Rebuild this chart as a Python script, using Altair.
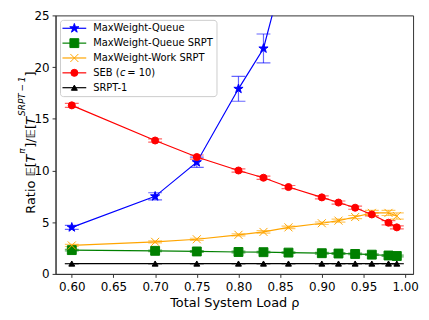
import altair as alt
import pandas as pd

# ---------------- data ----------------
series_names = ["MaxWeight-Queue", "MaxWeight-Queue SRPT", "MaxWeight-Work SRPT",
                "SEB (c = 10)", "SRPT-1"]
series_colors = ["#0000ff", "#008000", "#ffa500", "#ff0000", "#000000"]

load_full = [0.60, 0.70, 0.75, 0.80, 0.83, 0.86, 0.90, 0.92, 0.94, 0.96, 0.98, 0.99]
load_mwq = [0.60, 0.70, 0.75, 0.80, 0.83, 0.86]

mwq_y = [4.5, 7.5, 10.8, 17.9, 21.8, 31.0]
mwq_err = [0.2, 0.35, 0.5, 1.2, 1.4, 2.0]

mwq_srpt_y = [2.30, 2.23, 2.17, 2.12, 2.10, 2.06, 2.00, 1.97, 1.93, 1.86, 1.78, 1.73]
mwq_srpt_err = [0.08] * 12

mww_srpt_y = [2.75, 3.10, 3.35, 3.78, 4.06, 4.50, 4.90, 5.15, 5.50, 5.90, 5.90, 5.60]
mww_srpt_err = [0.10, 0.10, 0.10, 0.10, 0.12, 0.12, 0.12, 0.15, 0.15, 0.25, 0.25, 0.30]

seb_y = [16.3, 12.9, 11.3, 10.0, 9.3, 8.4, 7.4, 6.9, 6.4, 5.75, 4.95, 4.5]
seb_err = [0.2, 0.15, 0.2, 0.15, 0.15, 0.15, 0.15, 0.15, 0.15, 0.15, 0.2, 0.15]

srpt1_y = [1.0] * 12
srpt1_err = [0.0] * 12

x_ticks = [0.60, 0.65, 0.70, 0.75, 0.80, 0.85, 0.90, 0.95, 1.00]
y_ticks = [0, 5, 10, 15, 20, 25]

# ---------------- table ----------------
rows = []
for name, xs, ys, es in [
    (series_names[0], load_mwq, mwq_y, mwq_err),
    (series_names[1], load_full, mwq_srpt_y, mwq_srpt_err),
    (series_names[2], load_full, mww_srpt_y, mww_srpt_err),
    (series_names[3], load_full, seb_y, seb_err),
    (series_names[4], load_full, srpt1_y, srpt1_err),
]:
    for xv, yv, ev in zip(xs, ys, es):
        rows.append({"series": name, "load": xv, "ratio": yv, "err": ev})
df = pd.DataFrame(rows)

STAR = ("M0,-1L0.2245,-0.309L0.951,-0.309L0.363,0.118L0.588,0.809L0,0.382"
        "L-0.588,0.809L-0.363,0.118L-0.951,-0.309L-0.2245,-0.309Z")
XMARK = "M-1,-1L1,1M-1,1L1,-1"
shapes = [STAR, "square", XMARK, "circle", "triangle-up"]
sizes = [95, 36, 40, 55, 42]

FONT = "DejaVu Sans"

color_enc = alt.Color("series:N", scale=alt.Scale(domain=series_names, range=series_colors), legend=None)
stroke_enc = alt.Stroke("series:N", scale=alt.Scale(domain=series_names, range=series_colors), legend=None)
fill_enc = alt.Fill("series:N", scale=alt.Scale(domain=series_names, range=series_colors), legend=None)
shape_enc = alt.Shape("series:N", scale=alt.Scale(domain=series_names, range=shapes), legend=None)
size_enc = alt.Size("series:N", scale=alt.Scale(domain=series_names, range=sizes), legend=None)

x_enc = alt.X("load:Q",
              scale=alt.Scale(domain=[0.5805, 1.0095], nice=False, zero=False),
              axis=alt.Axis(values=x_ticks, format=".2f", title="Total System Load ρ",
                            titlePadding=4, labelPadding=4))
y_scale = alt.Scale(domain=[0, 25], nice=False)
y_enc = alt.Y("ratio:Q", scale=y_scale, axis=alt.Axis(values=y_ticks, title=None))

base = alt.Chart(df)
errbase = base.transform_calculate(lo="datum.ratio - datum.err", hi="datum.ratio + datum.err")

err_rule = errbase.mark_rule(clip=True, opacity=0.6, strokeWidth=1.2).encode(
    x=x_enc, y=alt.Y("lo:Q", scale=y_scale, title=None), y2="hi:Q", color=color_enc)
cap_lo = errbase.mark_tick(orient="horizontal", size=14, thickness=1.2, clip=True, opacity=0.6).encode(
    x=x_enc, y=alt.Y("lo:Q", scale=y_scale, title=None), color=color_enc)
cap_hi = errbase.mark_tick(orient="horizontal", size=14, thickness=1.2, clip=True, opacity=0.6).encode(
    x=x_enc, y=alt.Y("hi:Q", scale=y_scale, title=None), color=color_enc)
lines = base.mark_line(clip=True, strokeWidth=1.2).encode(x=x_enc, y=y_enc, color=color_enc)
points = base.mark_point(filled=True, opacity=1, clip=True, strokeWidth=1).encode(
    x=x_enc, y=y_enc, fill=fill_enc, stroke=stroke_enc, shape=shape_enc, size=size_enc)

main = alt.layer(err_rule, cap_lo, cap_hi, lines, points)

# ---------------- legend (manual, matplotlib-like) ----------------
leg_labels = ["MaxWeight-Queue", "MaxWeight-Queue SRPT", "MaxWeight-Work SRPT", "SEB (", "SRPT-1"]
leg_df = pd.DataFrame({"series": series_names, "label": leg_labels})
one = pd.DataFrame({"k": [0]})
ly = alt.Y("series:N", scale=alt.Scale(type="point", domain=series_names, range=[13, 73], padding=0),
           axis=None)

leg_box = alt.Chart(one).mark_rect(fill="white", stroke="#cccccc", strokeWidth=1, cornerRadius=3).encode(
    x=alt.value(5), x2=alt.value(163), y=alt.value(5), y2=alt.value(82))
leg_line = alt.Chart(leg_df).mark_rule(strokeWidth=1.2).encode(
    x=alt.value(7), x2=alt.value(31), y=ly, color=color_enc)
leg_pts = alt.Chart(leg_df).mark_point(filled=True, opacity=1, strokeWidth=1).encode(
    x=alt.value(19), y=ly, fill=fill_enc, stroke=stroke_enc, shape=shape_enc, size=size_enc)
leg_text = alt.Chart(leg_df).mark_text(align="left", baseline="middle", fontSize=10, font=FONT,
                                        color="black").encode(
    x=alt.value(38), y=ly, text="label:N")
seb_only = alt.Chart(leg_df).transform_filter(alt.datum.series == series_names[3])
leg_c = seb_only.mark_text(align="left", baseline="middle", fontSize=10, font=FONT,
                           fontStyle="italic", color="black").encode(
    x=alt.value(65), y=ly, text=alt.value("c"))
leg_eq = seb_only.mark_text(align="left", baseline="middle", fontSize=10, font=FONT,
                            color="black").encode(
    x=alt.value(72.5), y=ly, text=alt.value("= 10)"))

legend = alt.layer(leg_box, leg_line, leg_pts, leg_text, leg_c, leg_eq)

# ---------------- y axis title (composed mathtext-like) ----------------
def ytxt(text, ypos, xpos, size=13, italic=False):
    kw = dict(angle=270, align="left", baseline="alphabetic", fontSize=size, font=FONT, color="black")
    if italic:
        kw["fontStyle"] = "italic"
    return alt.Chart(one).mark_text(**kw).encode(
        x=alt.value(xpos), y=alt.value(ypos), text=alt.value(text))

ytitle = alt.layer(
    ytxt("Ratio 𝔼[", 200.2, -21),
    ytxt("T", 148.5, -21, italic=True),
    ytxt("π", 139.6, -31, size=9, italic=True),
    ytxt("]/𝔼[", 133.7, -21),
    ytxt("T", 110.4, -21, italic=True),
    ytxt("SRPT\u2009−\u20091", 101.5, -31, size=9, italic=True),
    ytxt("]", 61.8, -21),
)

chart = alt.layer(main, legend, ytitle).resolve_scale(
    x="independent", y="independent"
).properties(
    width=361, height=261,
    autosize=alt.AutoSizeParams(type="none"),
    padding={"left": 48, "top": 6, "right": 8, "bottom": 37},
).configure_axis(
    labelFont=FONT, titleFont=FONT, labelColor="black", titleColor="black",
    tickColor="#333333", domainColor="#333333", grid=False,
    labelFontSize=12, titleFontSize=13, titleFontWeight="normal",
    tickSize=3.5, labelPadding=3, domainWidth=1, tickWidth=1,
).configure_view(stroke="#333333", strokeWidth=1)

chart.save("out.html", embed_options={"renderer": "svg", "actions": False})
